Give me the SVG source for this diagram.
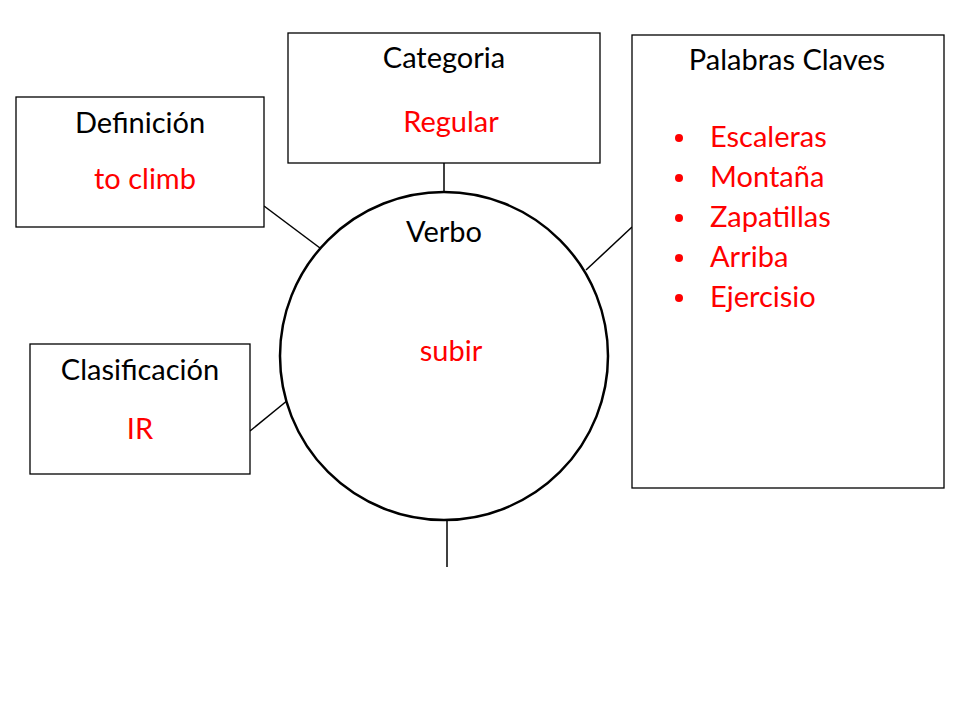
<svg xmlns="http://www.w3.org/2000/svg" width="960" height="720" viewBox="0 0 960 720">
<style>
.box{fill:#fff;stroke:#000;stroke-width:1.3}
.t{font-family:Lato,"Open Sans","Liberation Sans",sans-serif;font-size:29px;fill:#000;text-anchor:middle}
.r{fill:#ff0000}
.l{text-anchor:start}
.c{stroke:#000;stroke-width:1.5;fill:none}
</style>
<rect width="960" height="720" fill="#fff"/>
<g id="connectors">
<line class="c" x1="264" y1="206" x2="320" y2="248"/>
<line class="c" x1="444" y1="163" x2="444" y2="192"/>
<line class="c" x1="632" y1="227" x2="586" y2="270"/>
<line class="c" x1="250" y1="431" x2="288" y2="400"/>
<line class="c" x1="447" y1="520" x2="447" y2="567"/>
</g>
<g id="verbo">
<circle cx="444" cy="356" r="164" fill="#fff" stroke="#000" stroke-width="2.5"/>
<text class="t" x="444" y="242">Verbo</text>
<text class="t r" x="451" y="361">subir</text>
</g>
<g id="definicion">
<rect class="box" x="16" y="97" width="248" height="130"/>
<text class="t" x="140" y="133">Definición</text>
<text class="t r" x="145" y="189">to climb</text>
</g>
<g id="categoria">
<rect class="box" x="288" y="33" width="312" height="130"/>
<text class="t" x="444" y="68">Categoria</text>
<text class="t r" x="451" y="132">Regular</text>
</g>
<g id="clasificacion">
<rect class="box" x="30" y="344" width="220" height="130"/>
<text class="t" x="140" y="380">Clasificación</text>
<text class="t r" x="140" y="439">IR</text>
</g>
<g id="palabras">
<rect class="box" x="632" y="35" width="312" height="453"/>
<text class="t" x="787" y="70">Palabras Claves</text>
<g fill="#ff0000">
<circle cx="679" cy="138" r="4"/>
<circle cx="679" cy="178" r="4"/>
<circle cx="679" cy="218" r="4"/>
<circle cx="679" cy="258" r="4"/>
<circle cx="679" cy="298" r="4"/>
</g>
<text class="t r l" x="710" y="147">Escaleras</text>
<text class="t r l" x="710" y="187">Montaña</text>
<text class="t r l" x="710" y="227">Zapatillas</text>
<text class="t r l" x="710" y="267">Arriba</text>
<text class="t r l" x="710" y="307">Ejercisio</text>
</g>
</svg>
